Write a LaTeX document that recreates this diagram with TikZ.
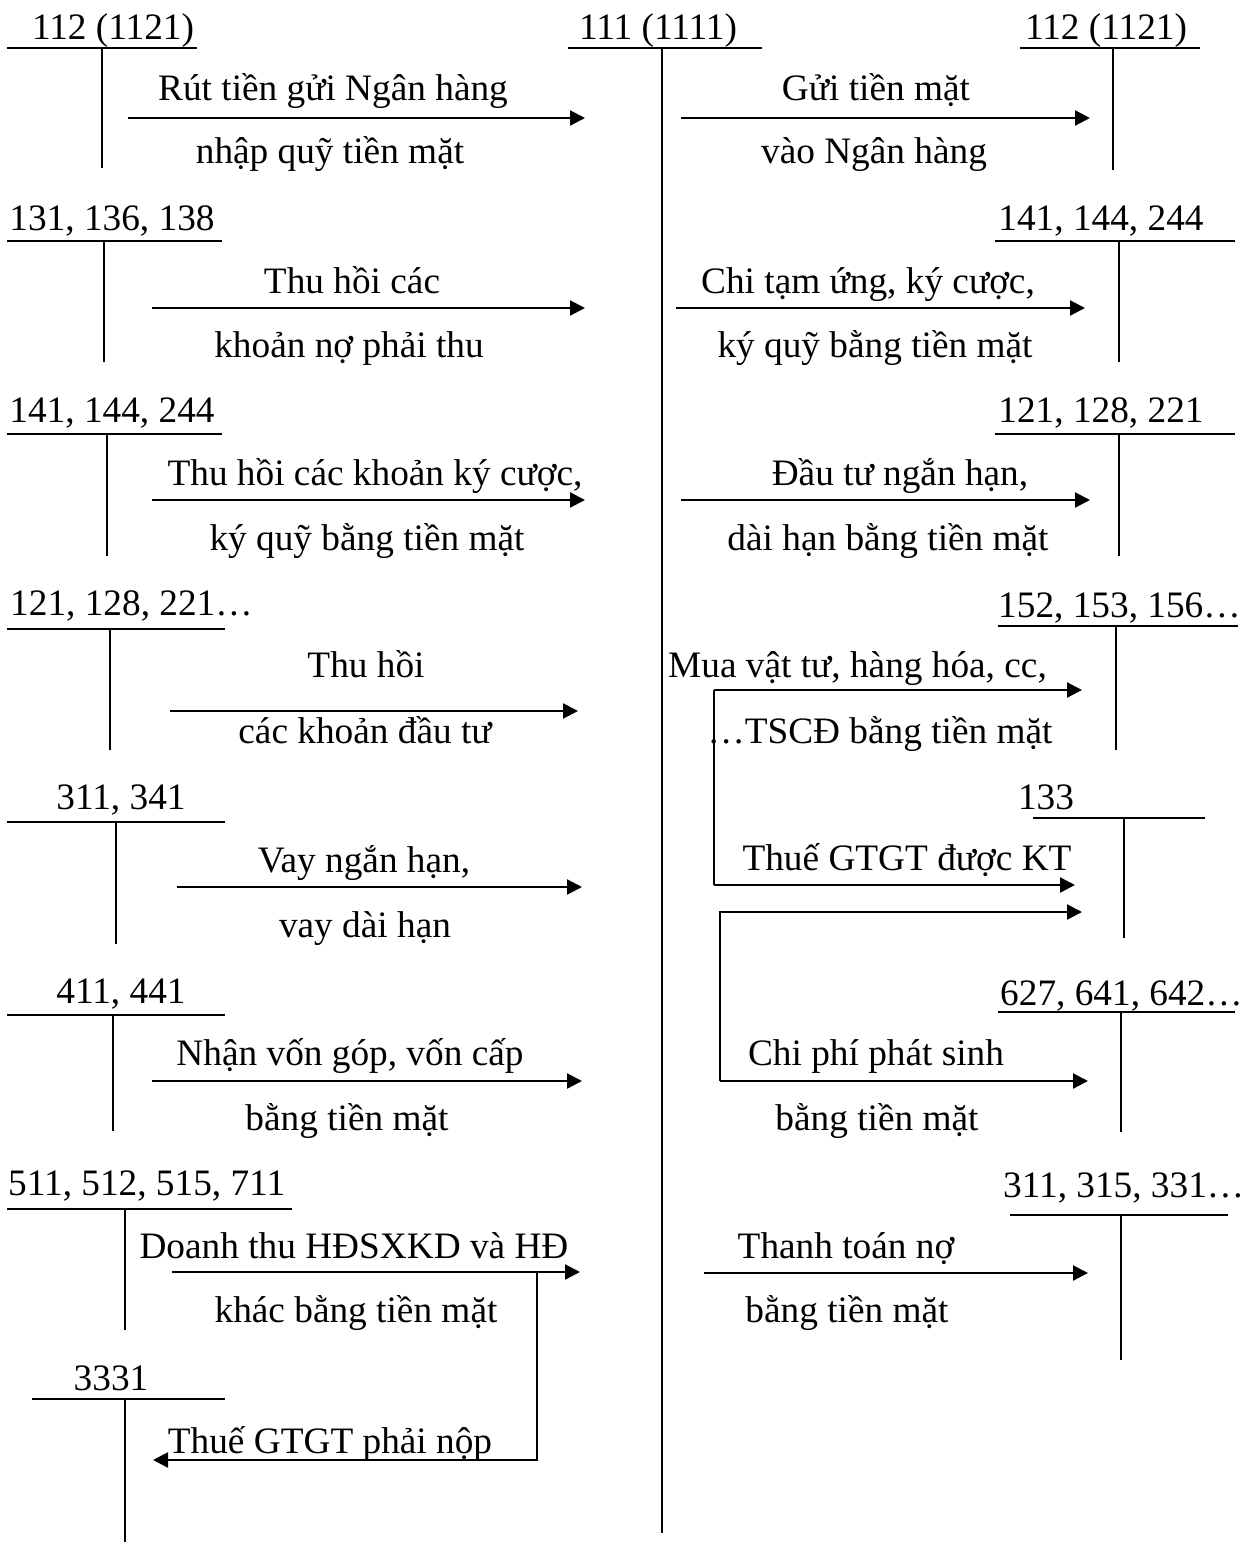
\documentclass[tikz,border=0pt]{standalone}
\usepackage{fontspec}
\setmainfont{Liberation Serif}
\usetikzlibrary{arrows.meta}
\begin{document}
\begin{tikzpicture}[x=1pt,y=-1pt,
  lbl/.style={font=\fontsize{37.3}{44}\selectfont, inner sep=0pt, anchor=base},
  lblw/.style={lbl, anchor=base west},
  tline/.style={line width=2pt},
  arr/.style={line width=2.2pt, -{Triangle[length=15pt,width=15pt]}},
  conn/.style={line width=2.2pt}]
\useasboundingbox (0,0) rectangle (1259,1542);

% ---------- central account 111 ----------
\node[lbl] (c111) at (658,39) {111 (1111)};
\coordinate (c111l) at (568,48); \coordinate (c111r) at (762,48);
\coordinate (c111t) at (662,48); \coordinate (c111b) at (662,1533);
\draw[tline] (c111l) -- (c111r); \draw[tline] (c111t) -- (c111b);

% ---------- left accounts ----------
\node[lbl] (a112) at (113,39) {112 (1121)};
\coordinate (a112l) at (7,48); \coordinate (a112r) at (197,48);
\coordinate (a112t) at (102,48); \coordinate (a112b) at (102,168);
\draw[tline] (a112l) -- (a112r); \draw[tline] (a112t) -- (a112b);

\node[lbl] (a131) at (112,230) {131, 136, 138};
\coordinate (a131l) at (7,241); \coordinate (a131r) at (222,241);
\coordinate (a131t) at (104,241); \coordinate (a131b) at (104,362);
\draw[tline] (a131l) -- (a131r); \draw[tline] (a131t) -- (a131b);

\node[lbl] (a141) at (112,422) {141, 144, 244};
\coordinate (a141l) at (7,434); \coordinate (a141r) at (222,434);
\coordinate (a141t) at (107,434); \coordinate (a141b) at (107,556);
\draw[tline] (a141l) -- (a141r); \draw[tline] (a141t) -- (a141b);

\node[lblw] (a121) at (10,615) {121, 128, 221…};
\coordinate (a121l) at (7,629); \coordinate (a121r) at (225,629);
\coordinate (a121t) at (110,629); \coordinate (a121b) at (110,750);
\draw[tline] (a121l) -- (a121r); \draw[tline] (a121t) -- (a121b);

\node[lbl] (a311) at (121,809) {311, 341};
\coordinate (a311l) at (7,822); \coordinate (a311r) at (225,822);
\coordinate (a311t) at (116,822); \coordinate (a311b) at (116,944);
\draw[tline] (a311l) -- (a311r); \draw[tline] (a311t) -- (a311b);

\node[lbl] (a411) at (121,1003) {411, 441};
\coordinate (a411l) at (7,1015); \coordinate (a411r) at (225,1015);
\coordinate (a411t) at (113,1015); \coordinate (a411b) at (113,1131);
\draw[tline] (a411l) -- (a411r); \draw[tline] (a411t) -- (a411b);

\node[lblw] (a511) at (8,1195) {511, 512, 515, 711};
\coordinate (a511l) at (7,1209); \coordinate (a511r) at (292,1209);
\coordinate (a511t) at (125,1209); \coordinate (a511b) at (125,1330);
\draw[tline] (a511l) -- (a511r); \draw[tline] (a511t) -- (a511b);

\node[lbl] (a3331) at (111,1390) {3331};
\coordinate (a3331l) at (32,1399); \coordinate (a3331r) at (225,1399);
\coordinate (a3331t) at (125,1399); \coordinate (a3331b) at (125,1542);
\draw[tline] (a3331l) -- (a3331r); \draw[tline] (a3331t) -- (a3331b);

% ---------- right accounts ----------
\node[lbl] (b112) at (1106,39) {112 (1121)};
\coordinate (b112l) at (1020,48); \coordinate (b112r) at (1200,48);
\coordinate (b112t) at (1113,48); \coordinate (b112b) at (1113,170);
\draw[tline] (b112l) -- (b112r); \draw[tline] (b112t) -- (b112b);

\node[lbl] (b141) at (1101,230) {141, 144, 244};
\coordinate (b141l) at (995,241); \coordinate (b141r) at (1235,241);
\coordinate (b141t) at (1119,241); \coordinate (b141b) at (1119,362);
\draw[tline] (b141l) -- (b141r); \draw[tline] (b141t) -- (b141b);

\node[lbl] (b121) at (1101,422) {121, 128, 221};
\coordinate (b121l) at (995,434); \coordinate (b121r) at (1235,434);
\coordinate (b121t) at (1119,434); \coordinate (b121b) at (1119,556);
\draw[tline] (b121l) -- (b121r); \draw[tline] (b121t) -- (b121b);

\node[lblw] (b152) at (998,617) {152, 153, 156…};
\coordinate (b152l) at (998,626); \coordinate (b152r) at (1238,626);
\coordinate (b152t) at (1116,626); \coordinate (b152b) at (1116,750);
\draw[tline] (b152l) -- (b152r); \draw[tline] (b152t) -- (b152b);

\node[lbl] (b133) at (1046,809) {133};
\coordinate (b133l) at (1033,818); \coordinate (b133r) at (1205,818);
\coordinate (b133t) at (1124,818); \coordinate (b133b) at (1124,938);
\draw[tline] (b133l) -- (b133r); \draw[tline] (b133t) -- (b133b);

\node[lblw] (b627) at (1000,1005) {627, 641, 642…};
\coordinate (b627l) at (998,1012); \coordinate (b627r) at (1235,1012);
\coordinate (b627t) at (1121,1012); \coordinate (b627b) at (1121,1132);
\draw[tline] (b627l) -- (b627r); \draw[tline] (b627t) -- (b627b);

\node[lblw] (b311) at (1003,1197) {311, 315, 331…};
\coordinate (b311l) at (1010,1215); \coordinate (b311r) at (1228,1215);
\coordinate (b311t) at (1121,1215); \coordinate (b311b) at (1121,1360);
\draw[tline] (b311l) -- (b311r); \draw[tline] (b311t) -- (b311b);

% ---------- left arrows ----------
\coordinate (p1s) at (128,118); \coordinate (p1e) at (585,118);
\draw[arr] (p1s) -- (p1e);
\node[lbl] (t1a) at (333,100) {Rút tiền gửi Ngân hàng};
\node[lbl] (t1b) at (330,163) {nhập quỹ tiền mặt};

\coordinate (p2s) at (152,308); \coordinate (p2e) at (585,308);
\draw[arr] (p2s) -- (p2e);
\node[lbl] (t2a) at (352,293) {Thu hồi các};
\node[lbl] (t2b) at (349,357) {khoản nợ phải thu};

\coordinate (p3s) at (152,500); \coordinate (p3e) at (585,500);
\draw[arr] (p3s) -- (p3e);
\node[lbl] (t3a) at (375,485) {Thu hồi các khoản ký cược,};
\node[lbl] (t3b) at (367,550) {ký quỹ bằng tiền mặt};

\coordinate (p4s) at (170,711); \coordinate (p4e) at (578,711);
\draw[arr] (p4s) -- (p4e);
\node[lbl] (t4a) at (366,677) {Thu hồi};
\node[lbl] (t4b) at (365,743) {các khoản đầu tư};

\coordinate (p5s) at (177,887); \coordinate (p5e) at (582,887);
\draw[arr] (p5s) -- (p5e);
\node[lbl] (t5a) at (364,872) {Vay ngắn hạn,};
\node[lbl] (t5b) at (365,937) {vay dài hạn};

\coordinate (p6s) at (152,1081); \coordinate (p6e) at (582,1081);
\draw[arr] (p6s) -- (p6e);
\node[lbl] (t6a) at (350,1065) {Nhận vốn góp, vốn cấp};
\node[lbl] (t6b) at (347,1130) {bằng tiền mặt};

\coordinate (p7s) at (172,1272); \coordinate (p7e) at (580,1272);
\draw[arr] (p7s) -- (p7e);
\node[lbl] (t7a) at (354,1258) {Doanh thu HĐSXKD và HĐ};
\node[lbl] (t7b) at (356,1322) {khác bằng tiền mặt};

\coordinate (p8s) at (537,1272); \coordinate (p8m) at (537,1460); \coordinate (p8e) at (153,1460);
\draw[arr] (p8s) -- (p8m) -- (p8e);
\node[lbl] (t8a) at (330,1453) {Thuế GTGT phải nộp};

% ---------- right arrows ----------
\coordinate (q1s) at (681,118); \coordinate (q1e) at (1090,118);
\draw[arr] (q1s) -- (q1e);
\node[lbl] (u1a) at (876,100) {Gửi tiền mặt};
\node[lbl] (u1b) at (874,163) {vào Ngân hàng};

\coordinate (q2s) at (676,308); \coordinate (q2e) at (1085,308);
\draw[arr] (q2s) -- (q2e);
\node[lbl] (u2a) at (868,293) {Chi tạm ứng, ký cược,};
\node[lbl] (u2b) at (875,357) {ký quỹ bằng tiền mặt};

\coordinate (q3s) at (681,500); \coordinate (q3e) at (1090,500);
\draw[arr] (q3s) -- (q3e);
\node[lbl] (u3a) at (900,485) {Đầu tư ngắn hạn,};
\node[lbl] (u3b) at (888,550) {dài hạn bằng tiền mặt};

\coordinate (q4s) at (714,690); \coordinate (q4e) at (1082,690);
\coordinate (q4m) at (714,885); \coordinate (q4f) at (1075,885);
\draw[arr] (q4s) -- (q4e);
\draw[conn] (q4s) -- (q4m);
\draw[arr] (q4m) -- (q4f);
\node[lblw] (u4a) at (668,677) {Mua vật tư, hàng hóa, cc,};
\node[lbl] (u4b) at (880,743) {…TSCĐ bằng tiền mặt};
\node[lbl] (u4c) at (907,870) {Thuế GTGT được KT};

\coordinate (q5s) at (720,1081); \coordinate (q5m) at (720,912);
\coordinate (q5e) at (1082,912); \coordinate (q5f) at (1088,1081);
\draw[arr] (q5s) -- (q5m) -- (q5e);
\draw[arr] (q5s) -- (q5f);
\node[lbl] (u5a) at (876,1065) {Chi phí phát sinh};
\node[lbl] (u5b) at (877,1130) {bằng tiền mặt};

\coordinate (q6s) at (704,1273); \coordinate (q6e) at (1088,1273);
\draw[arr] (q6s) -- (q6e);
\node[lbl] (u6a) at (846,1258) {Thanh toán nợ};
\node[lbl] (u6b) at (847,1322) {bằng tiền mặt};
\end{tikzpicture}
\end{document}
